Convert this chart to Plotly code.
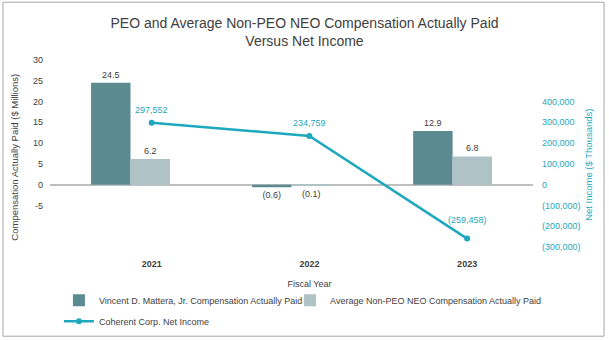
import plotly.graph_objects as go

years = ["2021", "2022", "2023"]
peo_cap = [24.5, -0.6, 12.9]
neo_cap = [6.2, -0.1, 6.8]
net_income = [297552, 234759, -259458]

left_ticks = [30, 25, 20, 15, 10, 5, 0, -5]
right_ticks = [400000, 300000, 200000, 100000, 0, -100000, -200000, -300000]

DARK = "#5B8B90"
LIGHT = "#AFC2C6"
TEAL = "#1EA8BD"
TEXT = "#404040"
FONT = "Liberation Sans, Arial, sans-serif"


def fmt_m(v):
    return f"{v:.1f}" if v >= 0 else f"({-v:.1f})"


def fmt_k(v):
    return f"{v:,.0f}" if v >= 0 else f"({-v:,.0f})"


fig = go.Figure()
fig.add_trace(go.Bar(
    x=years, y=peo_cap, name="Vincent D. Mattera, Jr. Compensation Actually Paid",
    marker=dict(color=DARK, line=dict(width=0)),
    text=[fmt_m(v) for v in peo_cap], textposition="outside", cliponaxis=False,
    textfont=dict(size=9, color=TEXT), xaxis="x", yaxis="y", legend="legend",
))
fig.add_trace(go.Bar(
    x=years, y=neo_cap, name="Average Non-PEO NEO Compensation Actually Paid",
    marker=dict(color=LIGHT, line=dict(width=0)),
    text=[fmt_m(v) for v in neo_cap], textposition="outside", cliponaxis=False,
    textfont=dict(size=9, color=TEXT), xaxis="x", yaxis="y", legend="legend3",
))
fig.add_trace(go.Scatter(
    x=years, y=net_income, name="Coherent Corp. Net Income",
    mode="lines+markers", line=dict(color=TEAL, width=2.5),
    marker=dict(color=TEAL, size=6), cliponaxis=False,
    xaxis="x2", yaxis="y2", legend="legend2",
))

# data labels for the line, shifted above each point (category axis -> index)
label_shifts = [13, 13, 19]
line_labels = [
    dict(text=fmt_k(v), x=i, y=v, xref="x2", yref="y2", showarrow=False,
         yshift=s, xanchor="center", yanchor="middle",
         font=dict(size=9, color=TEAL, family=FONT))
    for i, (v, s) in enumerate(zip(net_income, label_shifts))
]

legend_common = dict(orientation="h", xanchor="left", yanchor="middle",
                     font=dict(size=9, color=TEXT), bgcolor="rgba(0,0,0,0)", itemwidth=30)

fig.update_layout(
    width=609, height=340,
    margin=dict(l=50, r=63, t=60, b=92.5, autoexpand=False),
    paper_bgcolor="white", plot_bgcolor="rgba(0,0,0,0)",
    font=dict(family=FONT, size=9, color=TEXT),
    title=dict(
        text="PEO and Average Non-PEO NEO Compensation Actually Paid<br>Versus Net Income",
        x=0.5, xref="container", xanchor="center",
        y=1 - 28 / 340, yref="container", yanchor="middle",
        font=dict(size=14, color=TEXT, family=FONT),
    ),
    barmode="group", bargap=0.51, bargroupgap=0,
    xaxis=dict(domain=[0, 0.974], type="category", showticklabels=False,
               showgrid=False, showline=False, ticks="", anchor="y"),
    xaxis2=dict(domain=[0.046, 1], type="category", anchor="y2",
                side="bottom", showgrid=False, showline=False, ticks="",
                range=[-0.5, 2.5],
                tickfont=dict(size=9, color=TEXT, family=FONT, weight="bold"),
                ticklabelstandoff=10,
                title=dict(text="Fiscal Year", font=dict(size=9, color=TEXT), standoff=12)),
    yaxis=dict(range=[-15, 30], tickvals=left_ticks, ticktext=[str(v) for v in left_ticks],
               showgrid=False, showline=False, ticks="", zeroline=True,
               zerolinecolor="#BFBFBF", zerolinewidth=2, ticklabelstandoff=6,
               tickfont=dict(size=9, color=TEXT)),
    yaxis2=dict(range=[-300000, 600000], overlaying="y", side="right", anchor="x",
                tickvals=right_ticks, ticktext=[fmt_k(v) for v in right_ticks],
                showgrid=False, showline=False, ticks="", zeroline=False,
                ticklabelstandoff=8, tickfont=dict(size=9, color=TEAL)),
    legend=dict(x=0.018, y=-0.285, **legend_common),
    legend3=dict(x=0.484, y=-0.285, **legend_common),
    legend2=dict(x=0.018, y=-0.397, **legend_common),
    showlegend=True,
    annotations=line_labels + [
        dict(text="Compensation Actually Paid ($ Millions)", xref="paper", yref="paper",
             x=-0.0706, y=0.483, textangle=-90, showarrow=False,
             font=dict(size=9.5, color=TEXT), xanchor="center", yanchor="middle"),
        dict(text="Net Income ($ Thousands)", xref="paper", yref="paper",
             x=1.087, y=0.44, textangle=-90, showarrow=False,
             font=dict(size=9.5, color=TEAL), xanchor="center", yanchor="middle"),
    ],
    shapes=[dict(type="rect", xref="paper", yref="paper",
                 x0=-0.0948, x1=1.117, y0=-0.477, y1=1.309,
                 line=dict(color="#A6A6A6", width=1), fillcolor="rgba(0,0,0,0)", layer="below")],
)

fig.write_html("out.html")
